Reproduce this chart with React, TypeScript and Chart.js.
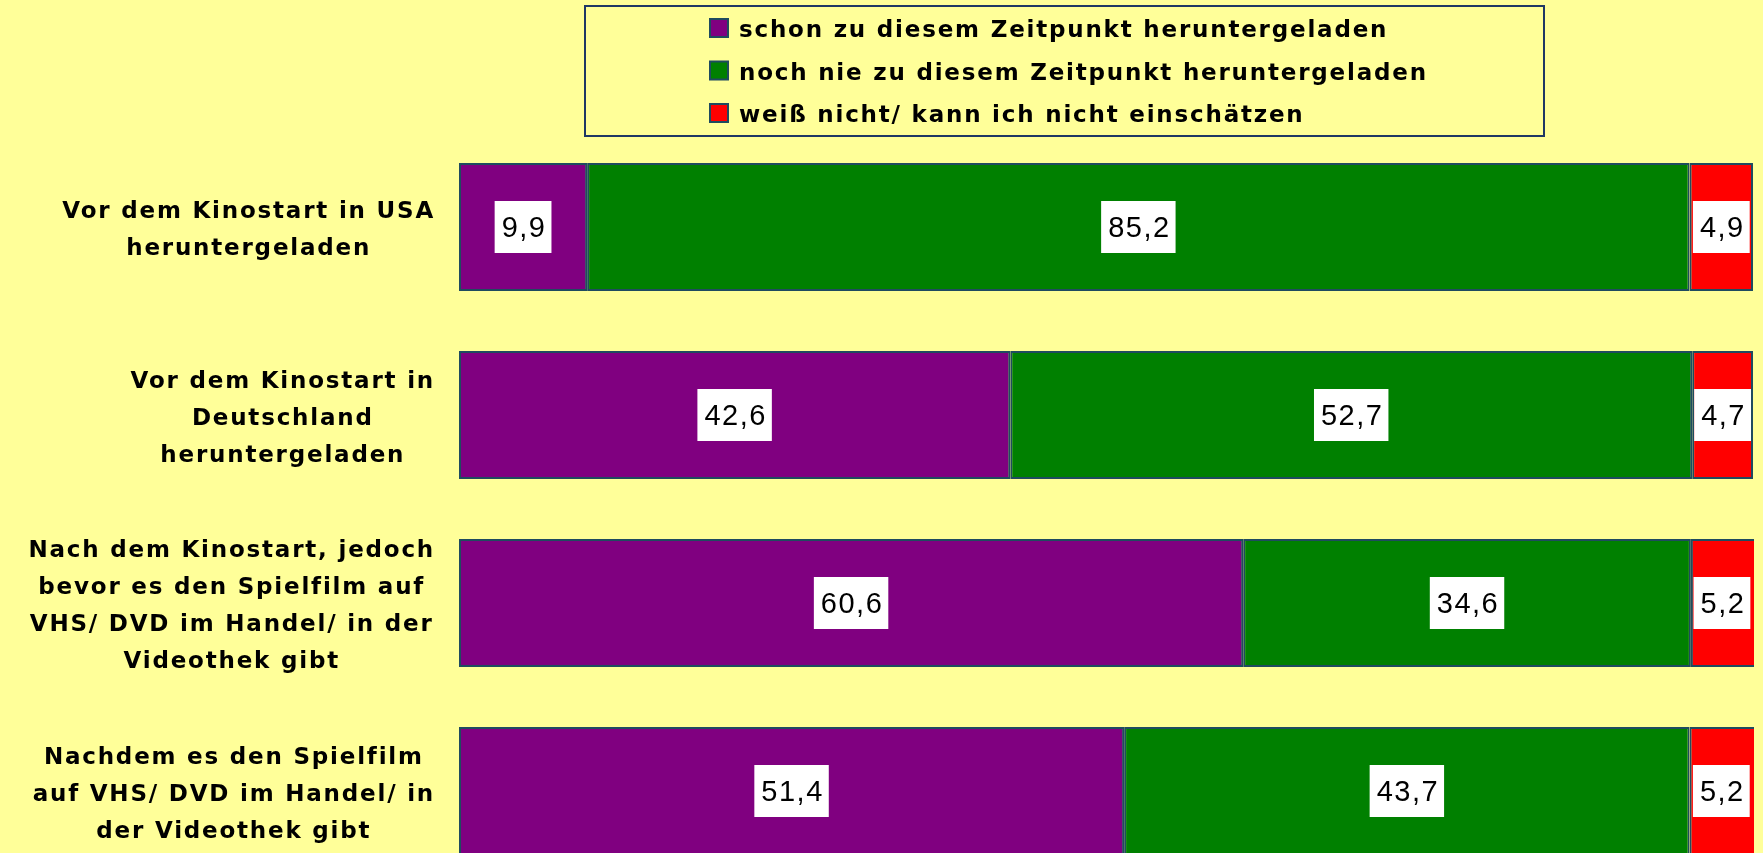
import React, { useEffect, useRef } from "react";
import { Chart, registerables } from "chart.js";

Chart.register(...registerables);

const categories: string[][] = [
  ["Vor dem Kinostart in USA", "heruntergeladen"],
  ["Vor dem Kinostart in", "Deutschland", "heruntergeladen"],
  ["Nach dem Kinostart, jedoch", "bevor es den Spielfilm auf", "VHS/ DVD im Handel/ in der", "Videothek gibt"],
  ["Nachdem es den Spielfilm", "auf VHS/ DVD im Handel/ in", "der Videothek gibt"],
];
const seriesNames = [
  "schon zu diesem Zeitpunkt heruntergeladen",
  "noch nie zu diesem Zeitpunkt heruntergeladen",
  "weiß nicht/ kann ich nicht einschätzen",
];
const schonValues = [9.9, 42.6, 60.6, 51.4];
const nochNieValues = [85.2, 52.7, 34.6, 43.7];
const weissNichtValues = [4.9, 4.7, 5.2, 5.2];
const seriesColors = ["#800080", "#008000", "#FF0000"];

const BG = "#FFFF99";
const BORDER = "#1F4B5F";
const TEXT_FONT = "'DejaVu Sans', Verdana, sans-serif";
const NUM_FONT = "'Liberation Sans', Arial, sans-serif";

const bgPlugin = {
  id: "bg",
  beforeDraw(chart: any) {
    const { ctx, width, height } = chart;
    ctx.save();
    ctx.fillStyle = BG;
    ctx.fillRect(0, 0, width, height);
    ctx.restore();
  },
};

const yLabelPlugin = {
  id: "yLabels",
  afterDraw(chart: any) {
    const { ctx, chartArea } = chart;
    const y = chart.scales.y;
    const lh = 37;
    ctx.save();
    ctx.font = `bold 23px ${TEXT_FONT}`;
    (ctx as any).letterSpacing = "1.8px";
    ctx.fillStyle = "#000";
    ctx.textAlign = "center";
    ctx.textBaseline = "middle";
    (chart.data.labels as string[][]).forEach((lines, i) => {
      const cy = y.getPixelForValue(i) + 4;
      const maxW = Math.max(...lines.map((l) => ctx.measureText(l).width));
      const cx = chartArea.left - 24 - maxW / 2;
      const y0 = cy - ((lines.length - 1) * lh) / 2;
      lines.forEach((l, k) => ctx.fillText(l, cx, y0 + k * lh));
    });
    ctx.restore();
  },
};

const valueLabelPlugin = {
  id: "valueLabels",
  afterDatasetsDraw(chart: any) {
    const { ctx, chartArea } = chart;
    ctx.save();
    ctx.beginPath();
    ctx.rect(chartArea.left, chartArea.top, chartArea.right - chartArea.left, chartArea.bottom - chartArea.top);
    ctx.clip();
    const fs = 29;
    ctx.font = `${fs}px ${NUM_FONT}`;
    (ctx as any).letterSpacing = "1.5px";
    ctx.textAlign = "center";
    ctx.textBaseline = "alphabetic";
    chart.data.datasets.forEach((ds: any, di: number) => {
      const meta = chart.getDatasetMeta(di);
      meta.data.forEach((bar: any, i: number) => {
        const v = ds.data[i];
        const txt = v.toFixed(1).replace(".", ",");
        const x1 = Math.max(Math.min(bar.x, bar.base), chartArea.left);
        const x2 = Math.min(Math.max(bar.x, bar.base), chartArea.right);
        const cx = (x1 + x2) / 2;
        const tw = ctx.measureText(txt).width;
        const w = tw + 12;
        const h = 52;
        ctx.fillStyle = "#FFFFFF";
        ctx.fillRect(cx - w / 2, bar.y - h / 2, w, h);
        ctx.fillStyle = "#000";
        ctx.fillText(txt, cx + 1, bar.y + fs * 0.716 / 2);
      });
    });
    ctx.restore();
  },
};

const legendPlugin = {
  id: "customLegend",
  afterDraw(chart: any) {
    const { ctx } = chart;
    const box = { x: 585, y: 6, w: 959, h: 130 };
    ctx.save();
    ctx.strokeStyle = "#1F3864";
    ctx.lineWidth = 2;
    ctx.strokeRect(box.x, box.y, box.w, box.h);
    ctx.font = `bold 23px ${TEXT_FONT}`;
    (ctx as any).letterSpacing = "1.8px";
    ctx.textAlign = "left";
    ctx.textBaseline = "alphabetic";
    chart.data.datasets.forEach((ds: any, i: number) => {
      const cy = 28 + i * 42.5;
      ctx.fillStyle = ds.backgroundColor;
      ctx.fillRect(710, cy - 9, 18, 18);
      ctx.strokeStyle = BORDER;
      ctx.lineWidth = 2;
      ctx.strokeRect(710, cy - 9, 18, 18);
      ctx.fillStyle = "#000";
      ctx.fillText(ds.label, 739, cy + 9);
    });
    ctx.restore();
  },
};

export default function App() {
  const ref = useRef<HTMLCanvasElement>(null);
  useEffect(() => {
    if (!ref.current) return;
    const values = [schonValues, nochNieValues, weissNichtValues];
    const chart = new Chart(ref.current, {
      type: "bar",
      data: {
        labels: categories as any,
        datasets: seriesNames.map((name, i) => ({
          label: name,
          data: values[i],
          backgroundColor: seriesColors[i],
          borderColor: BORDER,
          borderWidth: 2,
          borderSkipped: false,
          categoryPercentage: 0.68,
          barPercentage: 1,
          clip: 1,
        })),
      },
      options: {
        indexAxis: "y",
        responsive: true,
        maintainAspectRatio: false,
        animation: false,
        layout: { padding: { left: 459, right: 10, top: 133, bottom: 0 } },
        scales: {
          x: { stacked: true, min: 0, max: 100, display: false },
          y: { stacked: true, display: false },
        },
        plugins: {
          legend: { display: false },
          tooltip: { enabled: false },
        },
      },
      plugins: [bgPlugin, yLabelPlugin, valueLabelPlugin, legendPlugin],
    } as any);
    return () => chart.destroy();
  }, []);
  return (
    <div style={{ position: "fixed", left: 0, top: 0, width: 1763, height: 853, overflow: "hidden", background: BG }}>
      <div style={{ position: "relative", width: 1763, height: 885 }}>
        <canvas ref={ref} />
      </div>
    </div>
  );
}
